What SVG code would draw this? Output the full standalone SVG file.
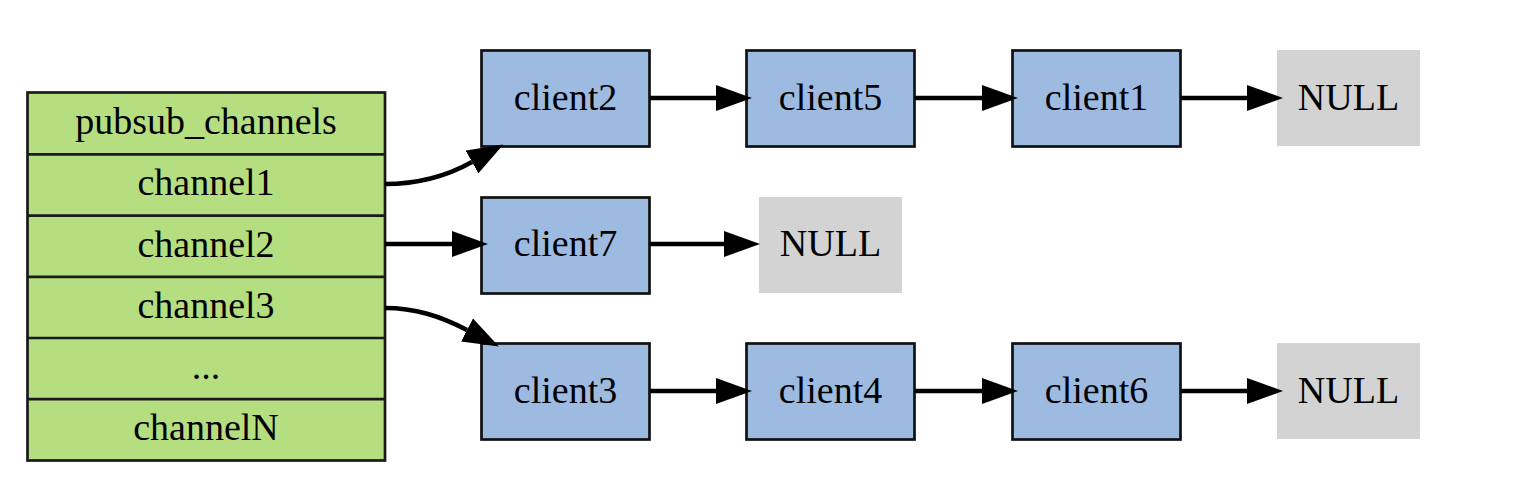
<svg xmlns="http://www.w3.org/2000/svg" width="1538" height="486" viewBox="0 0 1538 486">
<defs>
<style>
text{font-family:"Liberation Serif","Times New Roman",serif;font-size:38px;fill:#000;text-anchor:middle}
.tbl{fill:#b5de80;stroke:#1a1a1a;stroke-width:2.7}
.cl{fill:#9dbbe0;stroke:#111;stroke-width:2.7}
.nul{fill:#d3d3d3;stroke:none}
.edge{fill:none;stroke:#000;stroke-width:4.5;marker-end:url(#ah)}
</style>
<marker id="ah" markerUnits="userSpaceOnUse" viewBox="0 0 36 26" refX="0" refY="13" markerWidth="36" markerHeight="26" orient="auto">
<path d="M0,0 L36,13 L0,26 Z" fill="#000"/>
</marker>
</defs>
<rect width="1538" height="486" fill="#fff"/>
<g id="pubsub_channels">
<rect class="tbl" x="27.5" y="92.5" width="357.5" height="368"/>
<line x1="27.5" y1="154.3" x2="385" y2="154.3" stroke="#1a1a1a" stroke-width="2.7"/>
<line x1="27.5" y1="215.7" x2="385" y2="215.7" stroke="#1a1a1a" stroke-width="2.7"/>
<line x1="27.5" y1="276.9" x2="385" y2="276.9" stroke="#1a1a1a" stroke-width="2.7"/>
<line x1="27.5" y1="338" x2="385" y2="338" stroke="#1a1a1a" stroke-width="2.7"/>
<line x1="27.5" y1="399.2" x2="385" y2="399.2" stroke="#1a1a1a" stroke-width="2.7"/>
<text x="206" y="134">pubsub_channels</text>
<text x="206" y="195">channel1</text>
<text x="206" y="256.5">channel2</text>
<text x="206" y="317.5">channel3</text>
<text x="206" y="379">...</text>
<text x="206" y="440">channelN</text>
</g>
<g id="client2"><rect class="cl" x="481.5" y="50.5" width="168" height="96"/><text x="565.5" y="109.5">client2</text></g>
<g id="client5"><rect class="cl" x="746.5" y="50.5" width="168" height="96"/><text x="830.5" y="109.5">client5</text></g>
<g id="client1"><rect class="cl" x="1012.5" y="50.5" width="168" height="96"/><text x="1096.5" y="109.5">client1</text></g>
<g id="null1"><rect class="nul" x="1277" y="50" width="143" height="96"/><text x="1348.5" y="109.5">NULL</text></g>
<g id="client7"><rect class="cl" x="481.5" y="197.5" width="168" height="96"/><text x="565.5" y="256">client7</text></g>
<g id="null2"><rect class="nul" x="759" y="197" width="143" height="96"/><text x="830.5" y="256">NULL</text></g>
<g id="client3"><rect class="cl" x="481.5" y="343.5" width="168" height="96"/><text x="565.5" y="402.5">client3</text></g>
<g id="client4"><rect class="cl" x="746.5" y="343.5" width="168" height="96"/><text x="830.5" y="402.5">client4</text></g>
<g id="client6"><rect class="cl" x="1012.5" y="343.5" width="168" height="96"/><text x="1096.5" y="402.5">client6</text></g>
<g id="null3"><rect class="nul" x="1277" y="343" width="143" height="96"/><text x="1348.5" y="402.5">NULL</text></g>
<g id="connectors">
<path class="edge" d="M385,184 C420,184 447,176 472,162"/>
<path class="edge" d="M385,244 L452,244"/>
<path class="edge" d="M385,308 C415,308 440,316 467,330"/>
<path class="edge" d="M650,98 L716,98"/>
<path class="edge" d="M915,98 L982,98"/>
<path class="edge" d="M1181,98 L1247,98"/>
<path class="edge" d="M650,244 L724,244"/>
<path class="edge" d="M650,391 L716,391"/>
<path class="edge" d="M915,391 L982,391"/>
<path class="edge" d="M1181,391 L1247,391"/>
</g>
</svg>
